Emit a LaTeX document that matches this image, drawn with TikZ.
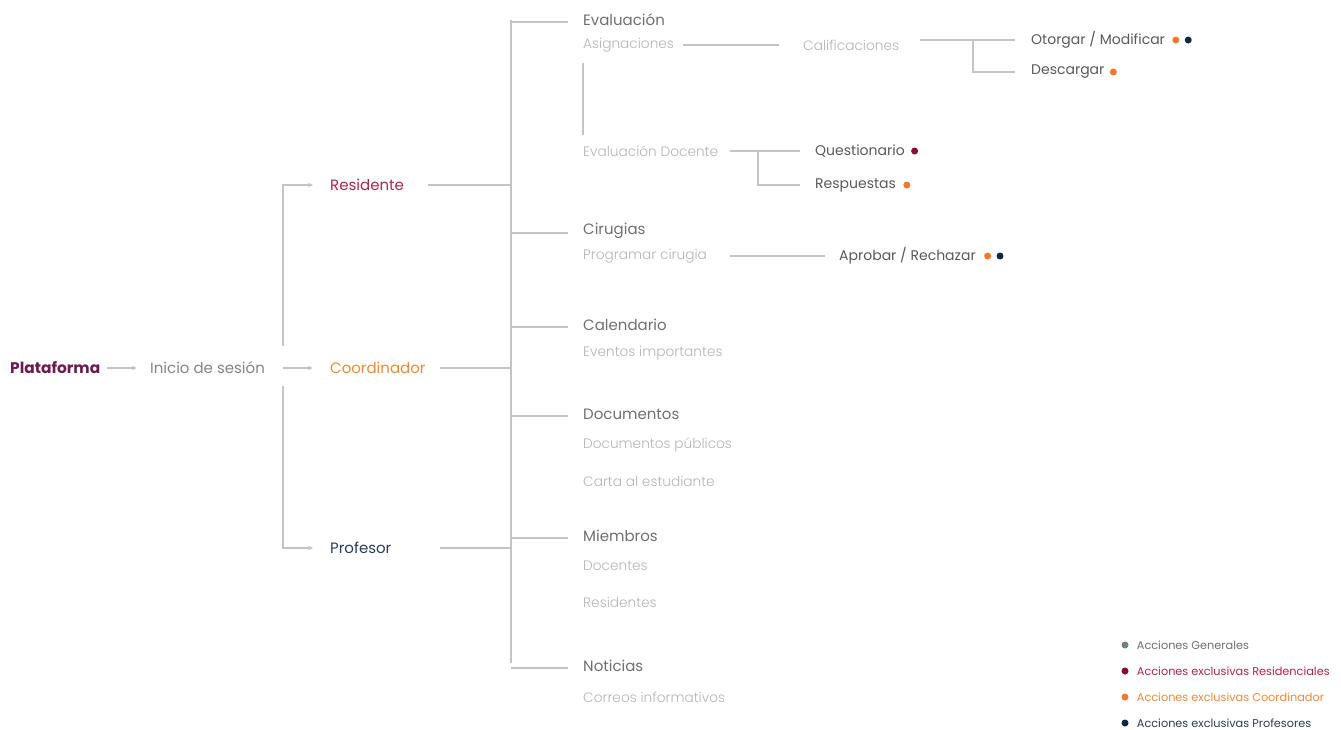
\documentclass[tikz,border=0pt]{standalone}
\usepackage{fontspec}
\setmainfont{Poppins}
\newfontfamily\lightf{Poppins Light}
\usetikzlibrary{arrows.meta,positioning}

\definecolor{platc}{HTML}{6B1B4F}
\definecolor{resc}{HTML}{A82A4B}
\definecolor{cooc}{HTML}{EE8A3E}
\definecolor{proc}{HTML}{2A3E54}
\definecolor{headc}{HTML}{707070}
\definecolor{subc}{HTML}{B5B5B5}
\definecolor{actc}{HTML}{5A5A5A}
\definecolor{inic}{HTML}{858585}
\definecolor{linec}{HTML}{C4C4C4}
\definecolor{dotres}{HTML}{8A0F2F}
\definecolor{dotcoo}{HTML}{F07A2A}
\definecolor{dotpro}{HTML}{0F2A3F}
\definecolor{dotgen}{HTML}{6F8080}

\tikzset{
  ln/.style={draw=linec, line width=1.1pt},
  arr/.style={ln, -{Stealth[length=5pt,width=4.5pt]}},
  txt/.style={anchor=west, inner sep=0pt},
  role/.style={txt, font=\fontsize{15}{17}\selectfont},
  head/.style={txt, text=headc, font=\fontsize{15}{17}\selectfont},
  sub/.style={txt, text=subc, font=\lightf\fontsize{13.7}{16}\selectfont},
  act/.style={txt, text=actc, font=\fontsize{14}{16}\selectfont},
  legend/.style={txt, font=\fontsize{11.3}{13}\selectfont},
  dot/.style={circle, fill=#1, inner sep=0pt, minimum size=7pt},
}

\begin{document}
\begin{tikzpicture}[x=1pt, y=-1pt]
\useasboundingbox[fill=white] (0,0) rectangle (1341,729);

% entry chain
\node[role, text=platc, font=\bfseries\fontsize{15.4}{17}\selectfont] (plat) at (10,368) {Plataforma};
\node[role, text=inic] (ini) at (150,368) {Inicio de sesión};
\node[role, text=resc] (res) at (330,185) {Residente};
\node[role, text=cooc] (coo) at (330,368) {Coordinador};
\node[role, text=proc] (pro) at (330,548) {Profesor};

\coordinate (a1) at (107,368);
\coordinate (fork) at (283,368);
\coordinate (forkT) at (283,346);
\coordinate (forkB) at (283,386);
\draw[arr] (a1) -- ([xshift=-13pt]ini.west);
\draw[arr] (fork) -- ([xshift=-17pt]coo.west);
\draw[arr] (forkT) |- ([xshift=-17pt]res.west);
\draw[arr] (forkB) |- ([xshift=-17pt]pro.west);

% main spine
\coordinate (spT) at (511,20);
\coordinate (spB) at (511,663);
\coordinate (resout) at (428,0);
\coordinate (roleout) at (440,0);
\draw[ln] (spT) -- (spB);
\draw[ln] (res -| resout) -- (res -| spT);
\draw[ln] (coo -| roleout) -- (coo -| spT);
\draw[ln] (pro -| roleout) -- (pro -| spT);

% section headings
\node[head] (ev)  at (583,20)  {Evaluación};
\node[head] (cir) at (583,231) {Cirugias};
\node[head] (cal) at (583,325) {Calendario};
\node[head] (doc) at (583,414) {Documentos};
\node[head] (mie) at (583,536) {Miembros};
\node[head] (not) at (583,666) {Noticias};
\foreach \h in {ev,cir,cal,doc,mie,not}
  \draw[ln] ([yshift=-2pt]\h.west -| spT) -- ([xshift=-15pt,yshift=-2pt]\h.west);

% sub items
\node[sub] (asg) at (583,45)  {Asignaciones};
\node[sub] (evd) at (583,151) {Evaluación Docente};
\node[sub] (prg) at (583,256) {Programar cirugia};
\node[sub] (evi) at (583,353) {Eventos importantes};
\node[sub] (dpu) at (583,445) {Documentos públicos};
\node[sub] (car) at (583,481) {Carta al estudiante};
\node[sub] (dcn) at (583,566) {Docentes};
\node[sub] (rsd) at (583,602) {Residentes};
\node[sub] (cor) at (583,697) {Correos informativos};

\draw[ln] ([yshift=-11pt]asg.south west) -- ([yshift=10pt]evd.north west);

% grades branch
\node[sub] (cfc) at (803,45) {Calificaciones};
\coordinate (asgout) at (683,0);
\coordinate (cfcout) at (920,0);
\draw[ln] (asg -| asgout) -- ([xshift=-24pt]cfc.west);
\node[act] (oto) at (1031,40) {Otorgar / Modificar};
\node[act] (des) at (1031,72) {Descargar};
\coordinate (jc) at (973,40);
\draw[ln] (oto -| cfcout) -- ([xshift=-16pt]oto.west);
\draw[ln] (jc) |- ([xshift=-16pt]des.west);
\node[dot=dotcoo, right=7pt of oto] (oto1) {};
\node[dot=dotpro, right=5pt of oto1] (oto2) {};
\node[dot=dotcoo, right=5pt of des] (des1) {};

% teacher evaluation branch
\node[act] (que) at (815,151) {Questionario};
\node[act] (rsp) at (815,185) {Respuestas};
\coordinate (evdout) at (730,0);
\coordinate (je) at (758,151);
\draw[ln] (evd -| evdout) -- ([xshift=-15pt]que.west);
\draw[ln] (je) |- ([xshift=-15pt]rsp.west);
\node[dot=dotres, right=6pt of que] (que1) {};
\node[dot=dotcoo, right=7pt of rsp] (rsp1) {};

% surgery branch
\node[act] (apr) at (839,256) {Aprobar / Rechazar};
\draw[ln] (prg -| evdout) -- ([xshift=-14pt]apr.west);
\node[dot=dotcoo, right=8pt of apr] (apr1) {};
\node[dot=dotpro, right=5pt of apr1] (apr2) {};

% legend
\node[dot=dotgen] (lg1) at (1125,645) {};
\node[dot=dotres] (lg2) at (1125,671) {};
\node[dot=dotcoo] (lg3) at (1125,697) {};
\node[dot=dotpro] (lg4) at (1125,723) {};
\node[legend, text=headc, right=8pt of lg1] (lt1) {Acciones Generales};
\node[legend, text=resc, right=8pt of lg2] (lt2) {Acciones exclusivas Residenciales};
\node[legend, text=cooc, right=8pt of lg3] (lt3) {Acciones exclusivas Coordinador};
\node[legend, text=proc, right=8pt of lg4] (lt4) {Acciones exclusivas Profesores};
\end{tikzpicture}
\end{document}
